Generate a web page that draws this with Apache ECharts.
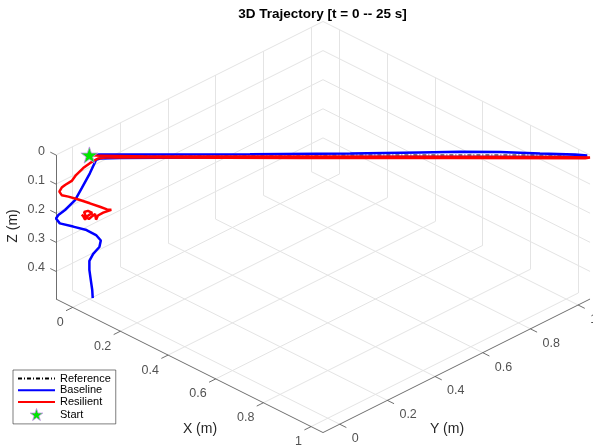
<!DOCTYPE html>
<html><head><meta charset="utf-8">
<script src="https://cdn.jsdelivr.net/npm/echarts@6/dist/echarts.min.js"></script>
<style>html,body{margin:0;padding:0;background:#fff}#c{width:593px;height:447px}</style>
</head><body><div id="c"></div>
<script>
// ---- axis limits and ticks ----
const xLim = [-0.07, 1.05];
const yLim = [-0.07, 1.05];
const zLim = [0, 0.495];
const xTicks = [0, 0.2, 0.4, 0.6, 0.8, 1];
const yTicks = [0, 0.2, 0.4, 0.6, 0.8, 1];
const zTicks = [0, 0.1, 0.2, 0.3, 0.4];
const xTickLabels = ['0', '0.2', '0.4', '0.6', '0.8', '1'];
const yTickLabels = ['0', '0.2', '0.4', '0.6', '0.8', '1'];
const zTickLabels = ['0', '0.1', '0.2', '0.3', '0.4'];

// ---- data (metres) ----
const refX = [0, 0.25, 0.5, 0.75, 1.0];
const refY = [0, 0.25, 0.5, 0.75, 1.0];
const refZ = [0, 0, 0, 0, 0];

const baseX = [0, 0.022, 0.127, 0.337, 0.547, 0.693, 0.777, 0.861, 0.945, 1.019, 1.044, 1.029, 0.861, 0.652, 0.442, 0.232, 0.064, 0.022, 0.014, 0.001, -0.016, -0.030, -0.051, -0.065, -0.070, -0.062, -0.034, -0.006, 0.014, 0.024, 0.021, 0.008, 0.000, 0.000, 0.003, 0.006, 0.007];
const baseY = [0, 0.022, 0.127, 0.337, 0.547, 0.693, 0.777, 0.861, 0.945, 1.019, 1.044, 1.029, 0.861, 0.652, 0.442, 0.232, 0.064, 0.022, 0.014, 0.001, -0.016, -0.030, -0.051, -0.065, -0.070, -0.062, -0.034, -0.006, 0.014, 0.024, 0.021, 0.008, 0.000, 0.000, 0.003, 0.006, 0.007];
const baseZ = [0, -0.002, -0.002, -0.003, -0.005, -0.009, -0.011, -0.010, -0.005, -0.002, 0.002, 0.006, 0.007, 0.007, 0.008, 0.009, 0.010, 0.012, 0.017, 0.063, 0.114, 0.155, 0.189, 0.206, 0.218, 0.235, 0.246, 0.258, 0.275, 0.294, 0.316, 0.340, 0.364, 0.395, 0.430, 0.464, 0.492];

const resX = [0, 0.022, 0.127, 0.442, 0.756, 0.987, 1.050, 1.040, 0.756, 0.442, 0.127, 0.033, 0.018, 0.001, -0.013, -0.028, -0.037, -0.051, -0.058, -0.063, -0.058, -0.044, -0.023, 0.001, 0.022, 0.037, 0.046, 0.029, 0.018, 0.014, 0.012, 0.006, -0.001, -0.007, -0.011, -0.003, 0.006, -0.003, -0.009, -0.013, -0.016];
const resY = [0, 0.022, 0.127, 0.442, 0.756, 0.987, 1.050, 1.040, 0.756, 0.442, 0.127, 0.033, 0.018, 0.001, -0.013, -0.028, -0.037, -0.051, -0.058, -0.063, -0.058, -0.044, -0.023, 0.001, 0.022, 0.037, 0.046, 0.029, 0.018, 0.014, 0.012, 0.006, -0.001, -0.007, -0.011, -0.003, 0.006, -0.003, -0.009, -0.013, -0.016];
const resZ = [0, 0.003, 0.005, 0.005, 0.006, 0.007, 0.009, 0.011, 0.010, 0.010, 0.009, 0.009, 0.012, 0.028, 0.045, 0.069, 0.089, 0.103, 0.112, 0.126, 0.138, 0.143, 0.153, 0.166, 0.178, 0.187, 0.188, 0.198, 0.208, 0.222, 0.203, 0.210, 0.220, 0.213, 0.196, 0.192, 0.199, 0.209, 0.222, 0.210, 0.205];

const startPt = [0, 0, 0];

// ---- orthographic view (az -45, el 30) mapped into the plot box ----
const ORIGIN = [56, 155], HU = 238.4, VU = 119.2, ZU = 291;
function proj(x, y, z) {
  const a = x - xLim[0], b = y - yLim[0];
  return [ORIGIN[0] + (a + b) * HU, ORIGIN[1] + (a - b) * VU + (z - zLim[0]) * ZU];
}
function path(X, Y, Z) { return X.map((v, i) => proj(v, Y[i], Z[i])); }
function seg(p, q) { return { coords: [proj(p[0], p[1], p[2]), proj(q[0], q[1], q[2])] }; }

const FONT = 'Liberation Sans, Arial, Helvetica, sans-serif';
const TXT = '#262626';

// grid lines on the three back planes
const gridSegs = [];
yTicks.forEach(y => gridSegs.push(seg([xLim[0], y, zLim[0]], [xLim[0], y, zLim[1]])));
zTicks.forEach(z => gridSegs.push(seg([xLim[0], yLim[0], z], [xLim[0], yLim[1], z])));
xTicks.forEach(x => gridSegs.push(seg([x, yLim[1], zLim[0]], [x, yLim[1], zLim[1]])));
zTicks.forEach(z => gridSegs.push(seg([xLim[0], yLim[1], z], [xLim[1], yLim[1], z])));
xTicks.forEach(x => gridSegs.push(seg([x, yLim[0], zLim[1]], [x, yLim[1], zLim[1]])));
yTicks.forEach(y => gridSegs.push(seg([xLim[0], y, zLim[1]], [xLim[1], y, zLim[1]])));

// axis lines and tick marks
const axisSegs = [
  seg([xLim[0], yLim[0], zLim[1]], [xLim[1], yLim[0], zLim[1]]),
  seg([xLim[1], yLim[0], zLim[1]], [xLim[1], yLim[1], zLim[1]]),
  seg([xLim[0], yLim[0], zLim[0]], [xLim[0], yLim[0], zLim[1]])
];
const TL = 0.028;
xTicks.forEach(x => axisSegs.push(seg([x, yLim[0], zLim[1]], [x, yLim[0] - TL, zLim[1]])));
yTicks.forEach(y => axisSegs.push(seg([xLim[1], y, zLim[1]], [xLim[1] + TL, y, zLim[1]])));
zTicks.forEach(z => axisSegs.push(seg([xLim[0], yLim[0], z], [xLim[0] - 0.024, yLim[0], z])));

// tick label anchors
const labelData = [];
xTicks.forEach((x, i) => labelData.push({ name: xTickLabels[i], value: proj(x, yLim[0], zLim[1]),
  label: { position: 'left', distance: 9, offset: [0, 15] } }));
yTicks.forEach((y, i) => labelData.push({ name: yTickLabels[i], value: proj(xLim[1], y, zLim[1]),
  label: { position: 'right', distance: 12, offset: [0, 14.5] } }));
zTicks.forEach((z, i) => labelData.push({ name: zTickLabels[i], value: proj(xLim[0], yLim[0], z),
  label: { position: 'left', distance: 11, offset: [0, -3.4] } }));

const STAR = 'path://M0,-10L2.245,-3.09L9.511,-3.09L3.633,1.18L5.878,8.09L0,3.82L-5.878,8.09L-3.633,1.18L-9.511,-3.09L-2.245,-3.09Z';
const NOSYM = { color: 'rgba(0,0,0,0)', borderWidth: 0, opacity: 0 };
const STAR_STYLE = { color: '#00e600', borderColor: '#c08ae8', borderWidth: 0.8, opacity: 1 };

const chart = echarts.init(document.getElementById('c'), null, { renderer: 'canvas' });
chart.setOption({
  animation: false,
  backgroundColor: '#fff',
  grid: { left: 0, right: 0, top: 0, bottom: 0 },
  xAxis: { type: 'value', min: 0, max: 593, show: false },
  yAxis: { type: 'value', min: 0, max: 447, inverse: true, show: false },
  legend: {
    data: [
      { name: 'Reference', itemStyle: NOSYM },
      { name: 'Baseline', itemStyle: NOSYM },
      { name: 'Resilient', itemStyle: NOSYM },
      { name: 'Start', icon: STAR, itemStyle: STAR_STYLE }
    ],
    orient: 'vertical', left: 13, top: 370,
    itemWidth: 37, itemHeight: 12, itemGap: 0.7,
    padding: [3, 5, 3, 4],
    borderColor: '#262626', borderWidth: 0.6, backgroundColor: '#fff',
    selectedMode: false,
    textStyle: { fontSize: 11, color: '#000', fontFamily: FONT }
  },
  graphic: [
    { type: 'text', x: 322.5, y: 14, style: { text: '3D Trajectory [t = 0 -- 25 s]', fontSize: 13.5, fontWeight: 'bold', fontFamily: FONT, fill: '#000', align: 'center', verticalAlign: 'middle' } },
    { type: 'text', x: 200, y: 429, style: { text: 'X (m)', fontSize: 14, fontFamily: FONT, fill: TXT, align: 'center', verticalAlign: 'middle' } },
    { type: 'text', x: 447, y: 429, style: { text: 'Y (m)', fontSize: 14, fontFamily: FONT, fill: TXT, align: 'center', verticalAlign: 'middle' } },
    { type: 'text', x: 13, y: 226, rotation: Math.PI / 2, style: { text: 'Z (m)', fontSize: 14, fontFamily: FONT, fill: TXT, align: 'center', verticalAlign: 'middle' } }
  ],
  series: [
    { type: 'lines', coordinateSystem: 'cartesian2d', silent: true, z: 1,
      lineStyle: { color: '#e4e4e4', width: 1, opacity: 1 }, data: gridSegs },
    { type: 'lines', coordinateSystem: 'cartesian2d', silent: true, z: 2,
      lineStyle: { color: '#4a4a4a', width: 0.8, opacity: 1 }, data: axisSegs },
    { type: 'scatter', silent: true, z: 2, symbolSize: 0.1, itemStyle: { color: 'rgba(0,0,0,0)' },
      label: { show: true, formatter: '{b}', fontSize: 12.5, color: TXT, fontFamily: FONT },
      data: labelData },
    { name: 'Reference', type: 'line', z: 3, symbol: 'none', clip: false,
      lineStyle: { color: '#000', width: 1, type: [4, 2, 1, 2] }, itemStyle: { color: '#000' },
      data: path(refX, refY, refZ) },
    { name: 'Baseline', type: 'line', z: 4, symbol: 'none', clip: false,
      lineStyle: { color: '#0000ff', width: 2.5 }, itemStyle: { color: '#0000ff' },
      data: path(baseX, baseY, baseZ) },
    { name: 'Resilient', type: 'line', z: 5, symbol: 'none', clip: false,
      lineStyle: { color: '#ff0000', width: 2.5 }, itemStyle: { color: '#ff0000' },
      data: path(resX, resY, resZ) },
    { name: 'Start', type: 'scatter', z: 6, symbol: STAR, symbolSize: 17, symbolKeepAspect: true, clip: false,
      itemStyle: STAR_STYLE,
      data: [proj(startPt[0], startPt[1], startPt[2])] }
  ]
});
</script>
</body></html>
